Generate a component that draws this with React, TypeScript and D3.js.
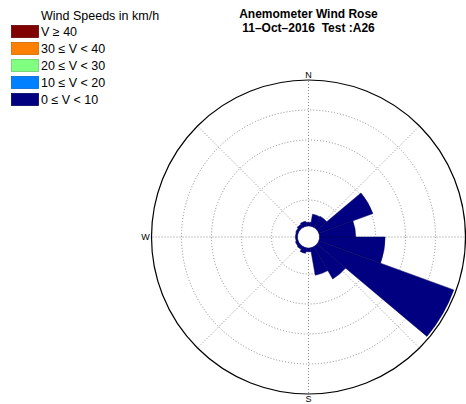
import React, { useEffect, useRef } from 'react';
import * as d3 from 'd3';

// wind directions (sector centres, degrees clockwise from N)
const directions = [0, 20, 40, 60, 80, 100, 120, 140, 160, 180, 200, 220, 240, 260, 280, 300, 320, 340];
// frequency (%) of the 0 <= V < 10 bin per direction
const freqLow = [1.3, 2.7, 2.8, 10.25, 6.7, 11.6, 24.6, 6.9, 5.3, 1.3, 1.6, 1.25, 1.15, 1.0, 1.0, 1.1, 1.3, 1.5];

const legendLabels = ['V \u2265 40', '30 \u2264 V < 40', '20 \u2264 V < 30', '10 \u2264 V < 20', '0 \u2264 V < 10'];
const legendColors = ['#800000', '#ff8000', '#80ff80', '#0080ff', '#000080'];
const ringValues = [5, 10, 15, 20];
// E falls outside the frame in the original, so only three labels show
const cardinals = [
  { label: 'N', angle: 0 },
  { label: 'S', angle: 180 },
  { label: 'W', angle: 270 },
];

const W = 466;
const H = 404;

export default function App() {
  const svgRef = useRef<SVGSVGElement>(null);

  useEffect(() => {
    if (!svgRef.current) return;
    const svg = d3.select(svgRef.current);
    svg.selectAll('*').remove();

    const cx = 308.5;
    const cy = 237;
    const holeR = 11;
    const outerR = 157;
    const sectorWidth = 20;

    const r = d3.scaleLinear().domain([0, 25]).range([7, outerR]);
    const toRad = (deg: number) => (deg * Math.PI) / 180;

    const plot = svg.append('g').attr('transform', `translate(${cx},${cy})`);

    // grid rings
    plot.selectAll('circle.ring')
      .data(ringValues)
      .join('circle')
      .attr('class', 'ring')
      .attr('r', d => r(d))
      .attr('fill', 'none')
      .attr('stroke', '#8a8a8a')
      .attr('stroke-width', 1)
      .attr('stroke-dasharray', '1,2');

    // spokes every 45 degrees
    const spokes = d3.range(0, 360, 45);
    plot.selectAll('line.spoke')
      .data(spokes)
      .join('line')
      .attr('class', 'spoke')
      .attr('x1', d => holeR * Math.sin(toRad(d)))
      .attr('y1', d => -holeR * Math.cos(toRad(d)))
      .attr('x2', d => outerR * Math.sin(toRad(d)))
      .attr('y2', d => -outerR * Math.cos(toRad(d)))
      .attr('stroke', '#8a8a8a')
      .attr('stroke-width', 1)
      .attr('stroke-dasharray', '1,2');

    // petals
    const arc = d3.arc<{ dir: number; v: number }>()
      .innerRadius(holeR)
      .outerRadius(d => r(d.v))
      .startAngle(d => toRad(d.dir - sectorWidth / 2))
      .endAngle(d => toRad(d.dir + sectorWidth / 2));

    plot.selectAll('path.petal')
      .data(directions.map((dir, i) => ({ dir, v: freqLow[i] })))
      .join('path')
      .attr('class', 'petal')
      .attr('d', d => arc(d) as string)
      .attr('fill', legendColors[4])
      .attr('stroke', '#00005a')
      .attr('stroke-width', 0.5);

    // outer circle
    plot.append('circle')
      .attr('r', outerR)
      .attr('fill', 'none')
      .attr('stroke', '#000')
      .attr('stroke-width', 1.2);

    // cardinal labels
    plot.selectAll('text.card')
      .data(cardinals)
      .join('text')
      .attr('class', 'card')
      .attr('x', d => (outerR + 6) * Math.sin(toRad(d.angle)))
      .attr('y', d => -(outerR + 5) * Math.cos(toRad(d.angle)))
      .attr('text-anchor', 'middle')
      .attr('dominant-baseline', 'central')
      .attr('font-family', 'Liberation Sans, Arial, sans-serif')
      .attr('font-size', 9)
      .attr('fill', '#000')
      .text(d => d.label);

    // title
    const title = svg.append('g')
      .attr('font-family', 'Liberation Sans, Arial, sans-serif')
      .attr('font-weight', 'bold')
      .attr('font-size', 12)
      .attr('text-anchor', 'middle');
    title.append('text').attr('x', cx).attr('y', 17.5).text('Anemometer Wind Rose');
    title.append('text').attr('x', cx).attr('y', 31.5)
      .attr('xml:space', 'preserve')
      .style('white-space', 'pre')
      .text('11\u2013Oct\u20132016  Test :A26');

    // legend
    const legend = svg.append('g')
      .attr('font-family', 'Liberation Sans, Arial, sans-serif')
      .attr('font-size', 12.5);
    legend.append('text').attr('x', 41).attr('y', 19.5).text('Wind Speeds in km/h');
    const rowY = d3.scaleLinear().domain([0, 4]).range([31.5, 99.5]);
    const rows = legend.selectAll('g.row')
      .data(legendLabels)
      .join('g')
      .attr('class', 'row')
      .attr('transform', (_, i) => `translate(0,${rowY(i)})`);
    rows.append('rect')
      .attr('x', 11.5)
      .attr('y', -6)
      .attr('width', 27)
      .attr('height', 12)
      .attr('fill', (_, i) => legendColors[i])
      .attr('stroke', (_, i) => d3.color(legendColors[i])!.darker(0.6).toString())
      .attr('stroke-width', 0.8);
    rows.append('text')
      .attr('x', 41)
      .attr('y', 4.5)
      .text(d => d);
  }, []);

  return (
    <svg
      ref={svgRef}
      width={W}
      height={H}
      style={{ position: 'absolute', left: 0, top: 0, background: '#fff' }}
    />
  );
}
